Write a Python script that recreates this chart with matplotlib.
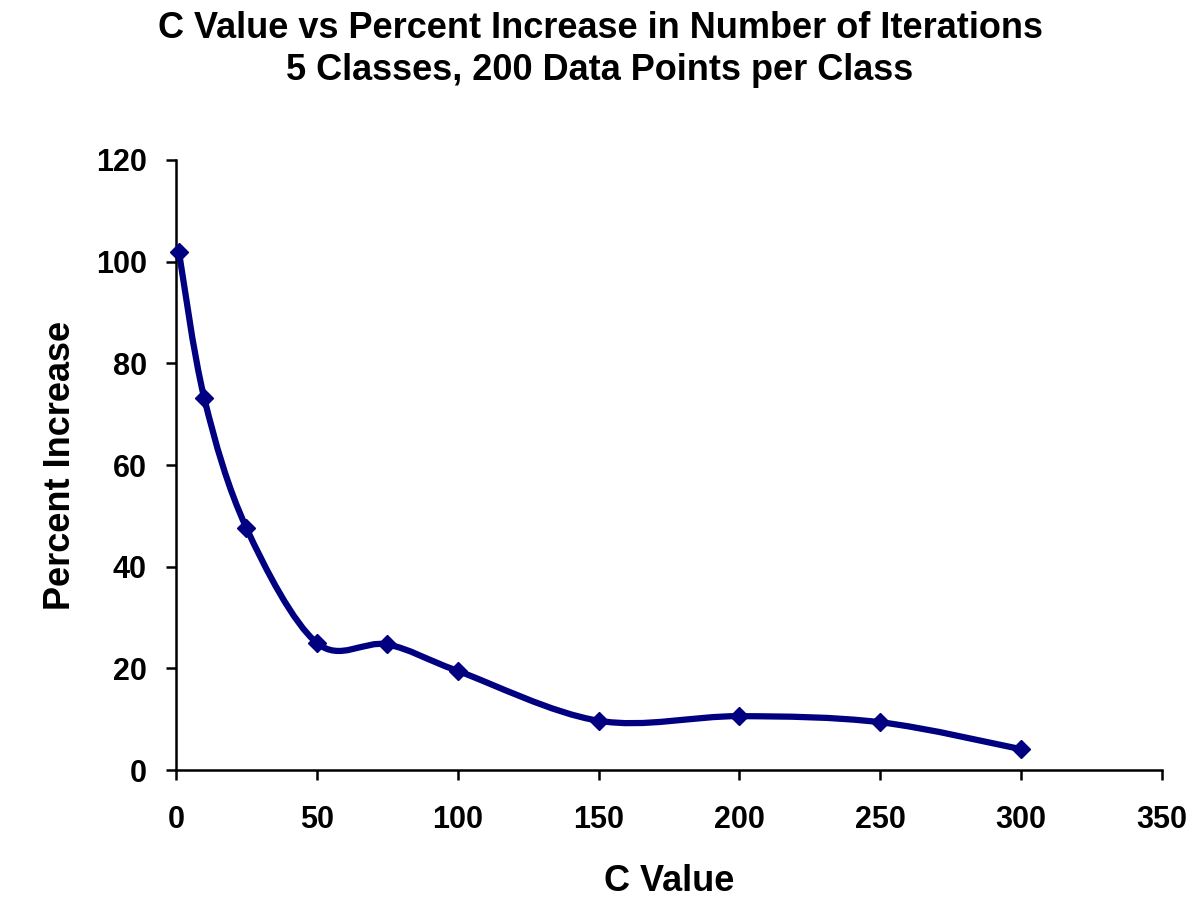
import matplotlib
matplotlib.use("Agg")
import matplotlib.pyplot as plt
from matplotlib.path import Path
from matplotlib.patches import PathPatch

plt.rcParams['font.family'] = ['Liberation Sans', 'DejaVu Sans']

# Data
c_values = [1, 10, 25, 50, 75, 100, 150, 200, 250, 300]
pct_increase = [102, 73.2, 47.6, 25.0, 24.7, 19.5, 9.7, 10.6, 9.4, 4.1]

x_ticks = [0, 50, 100, 150, 200, 250, 300, 350]
y_ticks = [0, 20, 40, 60, 80, 100, 120]

title_lines = ['C Value vs Percent Increase in Number of Iterations',
               '5 Classes, 200 Data Points per Class']

navy = '#000080'


# Excel-like smoothed line: cubic Bezier segments through the data points
def smooth_path(xs, ys):
    pts = list(zip(xs, ys))
    n = len(pts)
    verts = [pts[0]]
    codes = [Path.MOVETO]
    for i in range(n - 1):
        p0 = pts[i - 1] if i > 0 else pts[i]
        p1 = pts[i]
        p2 = pts[i + 1]
        p3 = pts[i + 2] if i + 2 < n else pts[i + 1]
        c1 = (p1[0] + (p2[0] - p0[0]) / 6, p1[1] + (p2[1] - p0[1]) / 6)
        c2 = (p2[0] - (p3[0] - p1[0]) / 6, p2[1] - (p3[1] - p1[1]) / 6)
        verts += [c1, c2, p2]
        codes += [Path.CURVE4] * 3
    return Path(verts, codes)


fig = plt.figure(figsize=(12, 9.07), dpi=100)
ax = fig.add_axes([0.1467, 0.151, 0.8216, 0.6726])

patch = PathPatch(smooth_path(c_values, pct_increase), facecolor='none',
                  edgecolor=navy, lw=4.5, capstyle='round', joinstyle='round')
ax.add_patch(patch)
ax.plot(c_values, pct_increase, linestyle='none', marker='D', markersize=9.5,
        color=navy, zorder=3, clip_on=False)

ax.set_xlim(0, 350)
ax.set_ylim(0, 120)
ax.set_xticks(x_ticks)
ax.set_yticks(y_ticks)

for side in ['top', 'right']:
    ax.spines[side].set_visible(False)
for side in ['left', 'bottom']:
    ax.spines[side].set_linewidth(1.8)
ax.tick_params(axis='both', direction='out', length=7, width=1.8, labelsize=22)
ax.tick_params(axis='x', pad=18)
ax.tick_params(axis='y', pad=14)
for lbl in ax.get_xticklabels() + ax.get_yticklabels():
    lbl.set_fontweight('bold')

ax.set_xlabel('C Value', fontsize=26, fontweight='bold', labelpad=21)
ax.set_ylabel('Percent Increase', fontsize=26, fontweight='bold', labelpad=13)

fig.text(0.5, 1 - 28 / 907, title_lines[0], ha='center', va='center',
         fontsize=26, fontweight='bold')
fig.text(0.5, 1 - 71 / 907, title_lines[1], ha='center', va='center',
         fontsize=26, fontweight='bold')

fig.savefig('out.png', dpi=100, facecolor='white')
